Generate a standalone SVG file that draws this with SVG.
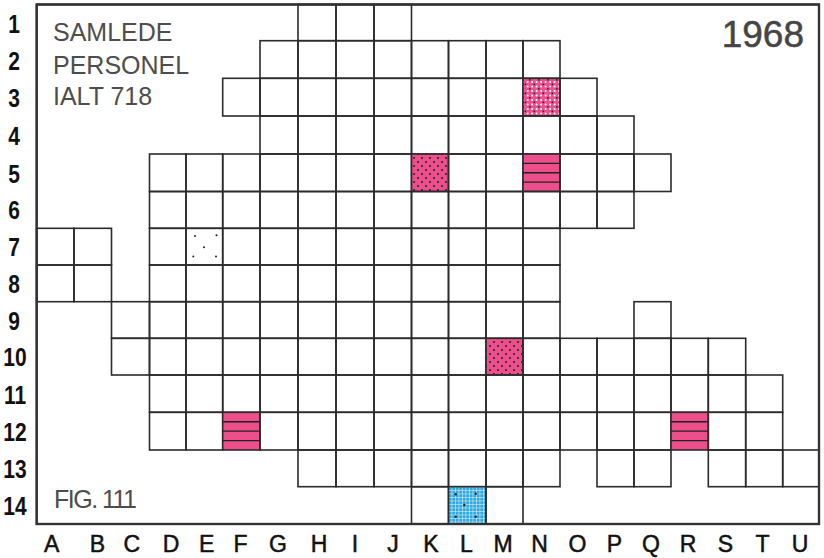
<svg xmlns="http://www.w3.org/2000/svg" width="824" height="558" viewBox="0 0 824 558">
<style>
.c{fill:none;stroke:#2b2b2b;stroke-width:1.6}
.frame{fill:#fff;stroke:#333;stroke-width:2.2}
.rl{font-family:"Liberation Sans",Arial,sans-serif;font-size:25px;font-weight:bold;fill:#111;text-anchor:middle}
.cl{font-family:"Liberation Sans",Arial,sans-serif;font-size:23px;fill:#111;stroke:#111;stroke-width:0.5;text-anchor:middle}
.tt{font-family:"Liberation Sans",Arial,sans-serif;font-size:25px;fill:#4d4d4d}
.yr{font-family:"Liberation Sans",Arial,sans-serif;font-size:37px;fill:#454545;stroke:#454545;stroke-width:0.5;text-anchor:end}
.st{stroke:#222;stroke-width:1.4}
.dot{fill:#222}
</style>
<defs>
<pattern id="pdots" width="8" height="8" patternUnits="userSpaceOnUse">
<rect width="8" height="8" fill="#ec4f8b"/>
<circle cx="2" cy="2" r="1" fill="#222"/>
<circle cx="6" cy="6" r="1" fill="#222"/>
</pattern>
<pattern id="pwdots" width="9" height="9" patternUnits="userSpaceOnUse">
<rect width="9" height="9" fill="#ec4f8b"/>
<circle cx="1.1" cy="1.1" r="1" fill="#fff"/>
<circle cx="5.6" cy="1.1" r="1" fill="#fff"/>
<circle cx="1.1" cy="5.6" r="1" fill="#fff"/>
<circle cx="5.6" cy="5.6" r="1" fill="#fff"/>
<circle cx="3.35" cy="3.35" r="0.9" fill="#222"/>
<circle cx="7.85" cy="7.85" r="0.9" fill="#222"/>
</pattern>
<pattern id="pmesh" width="3.5" height="3.5" patternUnits="userSpaceOnUse">
<rect width="3.5" height="3.5" fill="#2fa9e0"/>
<path d="M0 0H3.5M0 0V3.5" stroke="#fff" stroke-width="0.9"/>
</pattern>
</defs>
<rect width="824" height="558" fill="#fff"/>
<rect class="frame" x="36.7" y="4.5" width="782.3" height="519.5"/>

<g id="row1">
<rect class="c" x="298" y="4.5" width="38" height="36.2"/>
<rect class="c" x="336" y="4.5" width="38" height="36.2"/>
<rect class="c" x="374" y="4.5" width="37.5" height="36.2"/>
</g>
<g id="row2">
<rect class="c" x="260" y="40.7" width="38" height="37.6"/>
<rect class="c" x="298" y="40.7" width="38" height="37.6"/>
<rect class="c" x="336" y="40.7" width="38" height="37.6"/>
<rect class="c" x="374" y="40.7" width="37.5" height="37.6"/>
<rect class="c" x="411.5" y="40.7" width="37" height="37.6"/>
<rect class="c" x="448.5" y="40.7" width="37.5" height="37.6"/>
<rect class="c" x="486" y="40.7" width="37" height="37.6"/>
<rect class="c" x="523" y="40.7" width="37" height="37.6"/>
</g>
<g id="row3">
<rect class="c" x="222.7" y="78.3" width="37.3" height="37.7"/>
<rect class="c" x="260" y="78.3" width="38" height="37.7"/>
<rect class="c" x="298" y="78.3" width="38" height="37.7"/>
<rect class="c" x="336" y="78.3" width="38" height="37.7"/>
<rect class="c" x="374" y="78.3" width="37.5" height="37.7"/>
<rect class="c" x="411.5" y="78.3" width="37" height="37.7"/>
<rect class="c" x="448.5" y="78.3" width="37.5" height="37.7"/>
<rect class="c" x="486" y="78.3" width="37" height="37.7"/>
<rect class="c" x="523" y="78.3" width="37" height="37.7" style="fill:url(#pwdots)"/>
<rect class="c" x="560" y="78.3" width="37" height="37.7"/>
</g>
<g id="row4">
<rect class="c" x="260" y="116" width="38" height="38"/>
<rect class="c" x="298" y="116" width="38" height="38"/>
<rect class="c" x="336" y="116" width="38" height="38"/>
<rect class="c" x="374" y="116" width="37.5" height="38"/>
<rect class="c" x="411.5" y="116" width="37" height="38"/>
<rect class="c" x="448.5" y="116" width="37.5" height="38"/>
<rect class="c" x="486" y="116" width="37" height="38"/>
<rect class="c" x="523" y="116" width="37" height="38"/>
<rect class="c" x="560" y="116" width="37" height="38"/>
<rect class="c" x="597" y="116" width="37" height="38"/>
</g>
<g id="row5">
<rect class="c" x="149.5" y="154" width="36.5" height="37.5"/>
<rect class="c" x="186" y="154" width="36.7" height="37.5"/>
<rect class="c" x="222.7" y="154" width="37.3" height="37.5"/>
<rect class="c" x="260" y="154" width="38" height="37.5"/>
<rect class="c" x="298" y="154" width="38" height="37.5"/>
<rect class="c" x="336" y="154" width="38" height="37.5"/>
<rect class="c" x="374" y="154" width="37.5" height="37.5"/>
<rect class="c" x="411.5" y="154" width="37" height="37.5" style="fill:url(#pdots)"/>
<rect class="c" x="448.5" y="154" width="37.5" height="37.5"/>
<rect class="c" x="486" y="154" width="37" height="37.5"/>
<rect class="c" x="523" y="154" width="37" height="37.5" style="fill:#ec4f8b"/>
<path class="st" d="M523 163.4H560M523 172.75H560M523 182.1H560"/>
<rect class="c" x="560" y="154" width="37" height="37.5"/>
<rect class="c" x="597" y="154" width="37" height="37.5"/>
<rect class="c" x="634" y="154" width="37" height="37.5"/>
</g>
<g id="row6">
<rect class="c" x="149.5" y="191.5" width="36.5" height="36.8"/>
<rect class="c" x="186" y="191.5" width="36.7" height="36.8"/>
<rect class="c" x="222.7" y="191.5" width="37.3" height="36.8"/>
<rect class="c" x="260" y="191.5" width="38" height="36.8"/>
<rect class="c" x="298" y="191.5" width="38" height="36.8"/>
<rect class="c" x="336" y="191.5" width="38" height="36.8"/>
<rect class="c" x="374" y="191.5" width="37.5" height="36.8"/>
<rect class="c" x="411.5" y="191.5" width="37" height="36.8"/>
<rect class="c" x="448.5" y="191.5" width="37.5" height="36.8"/>
<rect class="c" x="486" y="191.5" width="37" height="36.8"/>
<rect class="c" x="523" y="191.5" width="37" height="36.8"/>
<rect class="c" x="560" y="191.5" width="37" height="36.8"/>
<rect class="c" x="597" y="191.5" width="37" height="36.8"/>
</g>
<g id="row7">
<rect class="c" x="36.7" y="228.3" width="37.3" height="36.7"/>
<rect class="c" x="74" y="228.3" width="37.5" height="36.7"/>
<rect class="c" x="149.5" y="228.3" width="36.5" height="36.7"/>
<rect class="c" x="186" y="228.3" width="36.7" height="36.7"/>
<circle class="dot" cx="195" cy="236" r="1"/>
<circle class="dot" cx="216.5" cy="235.3" r="1"/>
<circle class="dot" cx="204" cy="247.3" r="1"/>
<circle class="dot" cx="193.3" cy="256.5" r="1"/>
<circle class="dot" cx="216" cy="256.5" r="1"/>
<rect class="c" x="222.7" y="228.3" width="37.3" height="36.7"/>
<rect class="c" x="260" y="228.3" width="38" height="36.7"/>
<rect class="c" x="298" y="228.3" width="38" height="36.7"/>
<rect class="c" x="336" y="228.3" width="38" height="36.7"/>
<rect class="c" x="374" y="228.3" width="37.5" height="36.7"/>
<rect class="c" x="411.5" y="228.3" width="37" height="36.7"/>
<rect class="c" x="448.5" y="228.3" width="37.5" height="36.7"/>
<rect class="c" x="486" y="228.3" width="37" height="36.7"/>
<rect class="c" x="523" y="228.3" width="37" height="36.7"/>
</g>
<g id="row8">
<rect class="c" x="36.7" y="265" width="37.3" height="36.7"/>
<rect class="c" x="74" y="265" width="37.5" height="36.7"/>
<rect class="c" x="149.5" y="265" width="36.5" height="36.7"/>
<rect class="c" x="186" y="265" width="36.7" height="36.7"/>
<rect class="c" x="222.7" y="265" width="37.3" height="36.7"/>
<rect class="c" x="260" y="265" width="38" height="36.7"/>
<rect class="c" x="298" y="265" width="38" height="36.7"/>
<rect class="c" x="336" y="265" width="38" height="36.7"/>
<rect class="c" x="374" y="265" width="37.5" height="36.7"/>
<rect class="c" x="411.5" y="265" width="37" height="36.7"/>
<rect class="c" x="448.5" y="265" width="37.5" height="36.7"/>
<rect class="c" x="486" y="265" width="37" height="36.7"/>
<rect class="c" x="523" y="265" width="37" height="36.7"/>
</g>
<g id="row9">
<rect class="c" x="111.5" y="301.7" width="38" height="36.6"/>
<rect class="c" x="149.5" y="301.7" width="36.5" height="36.6"/>
<rect class="c" x="186" y="301.7" width="36.7" height="36.6"/>
<rect class="c" x="222.7" y="301.7" width="37.3" height="36.6"/>
<rect class="c" x="260" y="301.7" width="38" height="36.6"/>
<rect class="c" x="298" y="301.7" width="38" height="36.6"/>
<rect class="c" x="336" y="301.7" width="38" height="36.6"/>
<rect class="c" x="374" y="301.7" width="37.5" height="36.6"/>
<rect class="c" x="411.5" y="301.7" width="37" height="36.6"/>
<rect class="c" x="448.5" y="301.7" width="37.5" height="36.6"/>
<rect class="c" x="486" y="301.7" width="37" height="36.6"/>
<rect class="c" x="523" y="301.7" width="37" height="36.6"/>
<rect class="c" x="634" y="301.7" width="37" height="36.6"/>
</g>
<g id="row10">
<rect class="c" x="111.5" y="338.3" width="38" height="36.7"/>
<rect class="c" x="149.5" y="338.3" width="36.5" height="36.7"/>
<rect class="c" x="186" y="338.3" width="36.7" height="36.7"/>
<rect class="c" x="222.7" y="338.3" width="37.3" height="36.7"/>
<rect class="c" x="260" y="338.3" width="38" height="36.7"/>
<rect class="c" x="298" y="338.3" width="38" height="36.7"/>
<rect class="c" x="336" y="338.3" width="38" height="36.7"/>
<rect class="c" x="374" y="338.3" width="37.5" height="36.7"/>
<rect class="c" x="411.5" y="338.3" width="37" height="36.7"/>
<rect class="c" x="448.5" y="338.3" width="37.5" height="36.7"/>
<rect class="c" x="486" y="338.3" width="37" height="36.7" style="fill:url(#pdots)"/>
<rect class="c" x="523" y="338.3" width="37" height="36.7"/>
<rect class="c" x="560" y="338.3" width="37" height="36.7"/>
<rect class="c" x="597" y="338.3" width="37" height="36.7"/>
<rect class="c" x="634" y="338.3" width="37" height="36.7"/>
<rect class="c" x="671" y="338.3" width="37.3" height="36.7"/>
<rect class="c" x="708.3" y="338.3" width="37.4" height="36.7"/>
</g>
<g id="row11">
<rect class="c" x="149.5" y="375" width="36.5" height="37.3"/>
<rect class="c" x="186" y="375" width="36.7" height="37.3"/>
<rect class="c" x="222.7" y="375" width="37.3" height="37.3"/>
<rect class="c" x="260" y="375" width="38" height="37.3"/>
<rect class="c" x="298" y="375" width="38" height="37.3"/>
<rect class="c" x="336" y="375" width="38" height="37.3"/>
<rect class="c" x="374" y="375" width="37.5" height="37.3"/>
<rect class="c" x="411.5" y="375" width="37" height="37.3"/>
<rect class="c" x="448.5" y="375" width="37.5" height="37.3"/>
<rect class="c" x="486" y="375" width="37" height="37.3"/>
<rect class="c" x="523" y="375" width="37" height="37.3"/>
<rect class="c" x="560" y="375" width="37" height="37.3"/>
<rect class="c" x="597" y="375" width="37" height="37.3"/>
<rect class="c" x="634" y="375" width="37" height="37.3"/>
<rect class="c" x="671" y="375" width="37.3" height="37.3"/>
<rect class="c" x="708.3" y="375" width="37.4" height="37.3"/>
<rect class="c" x="745.7" y="375" width="37" height="37.3"/>
</g>
<g id="row12">
<rect class="c" x="149.5" y="412.3" width="36.5" height="37.7"/>
<rect class="c" x="186" y="412.3" width="36.7" height="37.7"/>
<rect class="c" x="222.7" y="412.3" width="37.3" height="37.7" style="fill:#ec4f8b"/>
<path class="st" d="M222.7 421.7H260M222.7 431.15H260M222.7 440.6H260"/>
<rect class="c" x="260" y="412.3" width="38" height="37.7"/>
<rect class="c" x="298" y="412.3" width="38" height="37.7"/>
<rect class="c" x="336" y="412.3" width="38" height="37.7"/>
<rect class="c" x="374" y="412.3" width="37.5" height="37.7"/>
<rect class="c" x="411.5" y="412.3" width="37" height="37.7"/>
<rect class="c" x="448.5" y="412.3" width="37.5" height="37.7"/>
<rect class="c" x="486" y="412.3" width="37" height="37.7"/>
<rect class="c" x="523" y="412.3" width="37" height="37.7"/>
<rect class="c" x="560" y="412.3" width="37" height="37.7"/>
<rect class="c" x="597" y="412.3" width="37" height="37.7"/>
<rect class="c" x="634" y="412.3" width="37" height="37.7"/>
<rect class="c" x="671" y="412.3" width="37.3" height="37.7" style="fill:#ec4f8b"/>
<path class="st" d="M671 421.7H708.3M671 431.15H708.3M671 440.6H708.3"/>
<rect class="c" x="708.3" y="412.3" width="37.4" height="37.7"/>
<rect class="c" x="745.7" y="412.3" width="37" height="37.7"/>
</g>
<g id="row13">
<rect class="c" x="298" y="450" width="38" height="36.7"/>
<rect class="c" x="336" y="450" width="38" height="36.7"/>
<rect class="c" x="374" y="450" width="37.5" height="36.7"/>
<rect class="c" x="411.5" y="450" width="37" height="36.7"/>
<rect class="c" x="448.5" y="450" width="37.5" height="36.7"/>
<rect class="c" x="486" y="450" width="37" height="36.7"/>
<rect class="c" x="523" y="450" width="37" height="36.7"/>
<rect class="c" x="597" y="450" width="37" height="36.7"/>
<rect class="c" x="634" y="450" width="37" height="36.7"/>
<rect class="c" x="708.3" y="450" width="37.4" height="36.7"/>
<rect class="c" x="745.7" y="450" width="37" height="36.7"/>
<rect class="c" x="782.7" y="450" width="36.3" height="36.7"/>
</g>
<g id="row14">
<rect class="c" x="411.5" y="486.7" width="37" height="37.3"/>
<rect class="c" x="448.5" y="486.7" width="37.5" height="37.3" style="fill:url(#pmesh)"/>
<circle class="dot" cx="455.7" cy="494.3" r="1.2"/>
<circle class="dot" cx="475.7" cy="493.7" r="1.2"/>
<circle class="dot" cx="464.3" cy="505" r="1.2"/>
<circle class="dot" cx="455.7" cy="516.8" r="1.2"/>
<circle class="dot" cx="475.7" cy="516.8" r="1.2"/>
<rect class="c" x="486" y="486.7" width="37" height="37.3"/>
</g>
<rect x="36.7" y="4.5" width="782.3" height="519.5" fill="none" stroke="#333" stroke-width="2.2"/>

<g id="title">
<text class="tt" x="53" y="41">SAMLEDE</text>
<text class="tt" x="53" y="73.5">PERSONEL</text>
<text class="tt" x="53" y="105">IALT 718</text>
<text class="yr" x="804" y="47">1968</text>
<text class="tt" x="54" y="508" textLength="83" lengthAdjust="spacing">FIG. 111</text>
</g>

<g id="rowlabels">
<text class="rl" transform="translate(14 33) scale(0.84 1)">1</text>
<text class="rl" transform="translate(14 70) scale(0.84 1)">2</text>
<text class="rl" transform="translate(14 107) scale(0.84 1)">3</text>
<text class="rl" transform="translate(14 145) scale(0.84 1)">4</text>
<text class="rl" transform="translate(14 183) scale(0.84 1)">5</text>
<text class="rl" transform="translate(14 219) scale(0.84 1)">6</text>
<text class="rl" transform="translate(14 256) scale(0.84 1)">7</text>
<text class="rl" transform="translate(14 293) scale(0.84 1)">8</text>
<text class="rl" transform="translate(14 330) scale(0.84 1)">9</text>
<text class="rl" transform="translate(15 366) scale(0.84 1)">10</text>
<text class="rl" transform="translate(15 403.5) scale(0.84 1)">11</text>
<text class="rl" transform="translate(15 441) scale(0.84 1)">12</text>
<text class="rl" transform="translate(15 478) scale(0.84 1)">13</text>
<text class="rl" transform="translate(15 515) scale(0.84 1)">14</text>
</g>

<g id="collabels">
<text class="cl" x="51.7" y="552">A</text>
<text class="cl" x="97.5" y="552">B</text>
<text class="cl" x="131.7" y="552">C</text>
<text class="cl" x="171" y="552">D</text>
<text class="cl" x="206.7" y="552">E</text>
<text class="cl" x="240.5" y="552">F</text>
<text class="cl" x="278" y="552">G</text>
<text class="cl" x="319" y="552">H</text>
<text class="cl" x="355" y="552">I</text>
<text class="cl" x="393" y="552">J</text>
<text class="cl" x="431" y="552">K</text>
<text class="cl" x="466.5" y="552">L</text>
<text class="cl" x="503" y="552">M</text>
<text class="cl" x="539.5" y="552">N</text>
<text class="cl" x="577.5" y="552">O</text>
<text class="cl" x="614.5" y="552">P</text>
<text class="cl" x="651" y="552">Q</text>
<text class="cl" x="688" y="552">R</text>
<text class="cl" x="725.5" y="552">S</text>
<text class="cl" x="762.5" y="552">T</text>
<text class="cl" x="800" y="552">U</text>
</g>
</svg>
